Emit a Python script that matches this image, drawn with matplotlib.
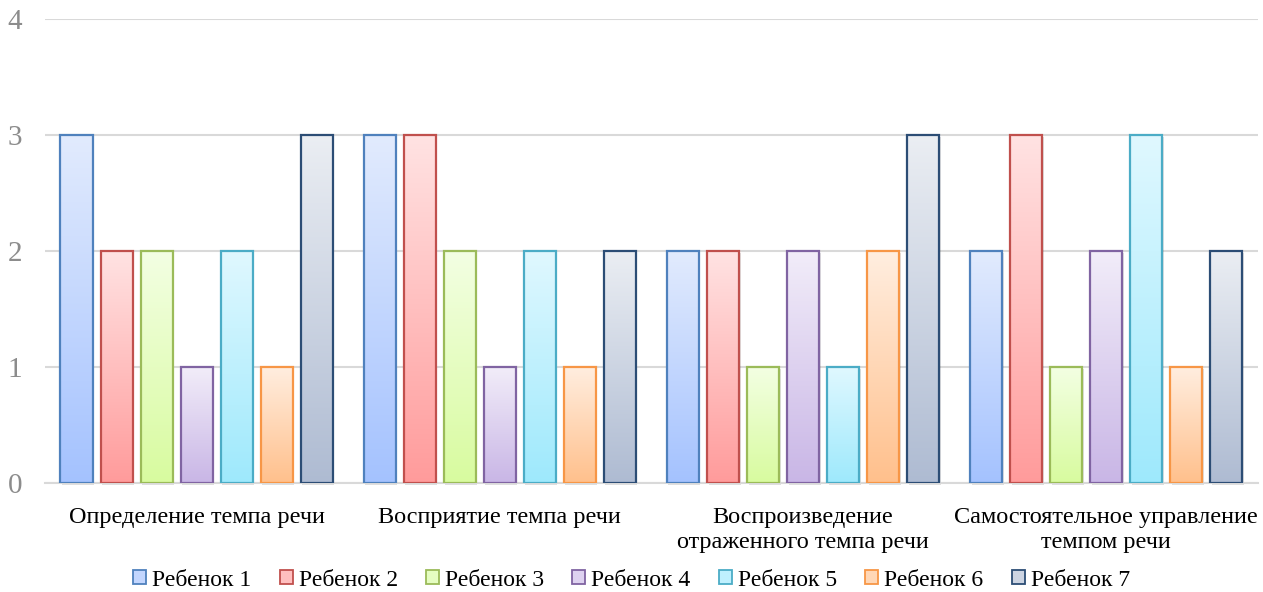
import numpy as np
import matplotlib.pyplot as plt
from matplotlib.patches import Rectangle
import matplotlib.colors as mcolors
import matplotlib.transforms as mtransforms

plt.rcParams["font.family"] = ["Liberation Serif", "DejaVu Serif"]

categories = [
    "Определение темпа речи",
    "Восприятие темпа речи",
    "Воспроизведение\nотраженного темпа речи",
    "Самостоятельное управление\nтемпом речи",
]
series_names = ["Ребенок 1", "Ребенок 2", "Ребенок 3", "Ребенок 4",
                "Ребенок 5", "Ребенок 6", "Ребенок 7"]
values = [
    [3, 3, 2, 2],  # Ребенок 1
    [2, 3, 2, 3],  # Ребенок 2
    [2, 2, 1, 1],  # Ребенок 3
    [1, 1, 2, 2],  # Ребенок 4
    [2, 2, 1, 3],  # Ребенок 5
    [1, 1, 2, 1],  # Ребенок 6
    [3, 2, 3, 2],  # Ребенок 7
]

# edge, top colour, bottom colour of each series
edge_colors = ["#4F81BD", "#C0504D", "#9BBB59", "#8064A2", "#4BACC6", "#F79646", "#2C4D75"]
top_colors = ["#E2EBFD", "#FFE3E3", "#F3FFE3", "#F2EDF9", "#E0F8FF", "#FFEEE0", "#EBEEF3"]
bot_colors = ["#A4C2FF", "#FF9B9B", "#D8FB9F", "#C9B6E6", "#9EE9FC", "#FFC08C", "#AEBBD2"]

fig = plt.figure(figsize=(12.63, 5.92), dpi=100)
ax = fig.add_axes([0.0356, 0.1841, 0.9604, 0.7838])

n = len(series_names)
slot = 40 / 303
width = 32 / 303
x = np.arange(len(categories))
shadow_tr = mtransforms.offset_copy(ax.transData, fig=fig, x=1.5, y=-1.5, units="dots")

for i in range(n):
    cmap = mcolors.LinearSegmentedColormap.from_list("g%d" % i, [bot_colors[i], top_colors[i]])
    grad = np.linspace(0, 1, 256).reshape(-1, 1)
    offs = (i - (n - 1) / 2) * slot
    bars = ax.bar(x + offs, values[i], width, facecolor="none",
                  edgecolor=edge_colors[i], linewidth=1.6, zorder=4)
    for b in bars:
        bx, by = b.get_x(), b.get_y()
        bw, bh = b.get_width(), b.get_height()
        ax.add_patch(Rectangle((bx, by), bw, bh, facecolor="#000000", alpha=0.12,
                               edgecolor="none", linewidth=0, zorder=2,
                               transform=shadow_tr, clip_on=False))
        im = ax.imshow(grad, cmap=cmap, origin="lower", aspect="auto",
                       extent=(bx, bx + bw, by, by + bh), zorder=3)
        im.set_clip_path(b)

ax.set_xlim(-0.5, len(categories) - 0.5)
ax.set_ylim(0, 4)
ax.set_yticks([0, 1, 2, 3, 4])
ax.set_xticks(x)
ax.set_xticklabels(categories, fontsize=17.5, linespacing=1.22)
ax.tick_params(axis="y", labelsize=21, length=0, pad=16.5)
ax.tick_params(axis="x", length=0, pad=17.5)
for lbl in ax.get_yticklabels():
    lbl.set_color("#8C8C8C")
ax.grid(axis="y", color="#D9D9D9", linewidth=1.5, zorder=0)
ax.set_axisbelow(True)
for s in ["top", "right", "left"]:
    ax.spines[s].set_visible(False)
ax.spines["bottom"].set_color("#D9D9D9")
ax.spines["bottom"].set_linewidth(1.5)

handles = [Rectangle((0, 0), 1, 1, facecolor=mcolors.to_hex(
    (np.array(mcolors.to_rgb(top_colors[i])) + np.array(mcolors.to_rgb(bot_colors[i]))) / 2),
    edgecolor=edge_colors[i], linewidth=1.3) for i in range(n)]
fig.legend(handles, series_names, loc="center", bbox_to_anchor=(0.5, 1 - 580 / 592),
           ncol=n, frameon=False, fontsize=17, handlelength=0.55, handleheight=0.55,
           handletextpad=0.25, columnspacing=1.2, borderpad=0)

plt.savefig("out.png", dpi=100)
